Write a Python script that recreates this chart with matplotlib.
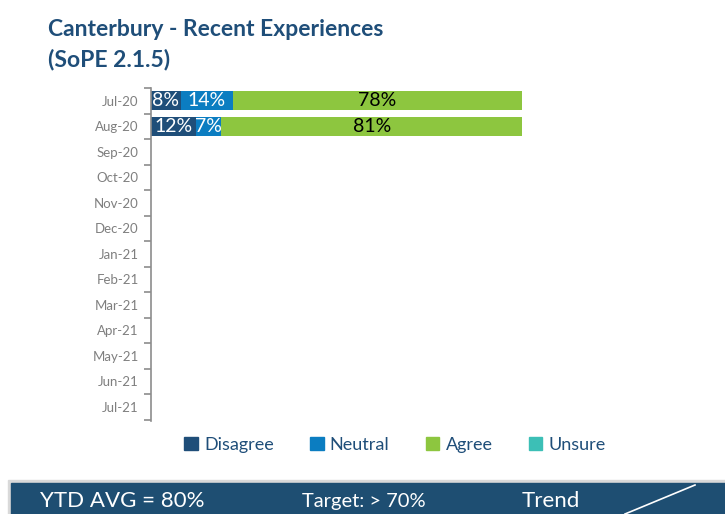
import matplotlib; matplotlib.use("Agg")
import matplotlib.pyplot as plt
from matplotlib.patches import Rectangle
from matplotlib.lines import Line2D
import numpy as np

plt.rcParams["font.family"] = ["Lato", "DejaVu Sans"]

months = ["Jul-20", "Aug-20", "Sep-20", "Oct-20", "Nov-20", "Dec-20", "Jan-21",
          "Feb-21", "Mar-21", "Apr-21", "May-21", "Jun-21", "Jul-21"]
disagree = [8, 12]
neutral = [14, 7]
agree = [78, 81]
unsure = [0, 0]
series = ["Disagree", "Neutral", "Agree", "Unsure"]
colors = ["#1f4e79", "#0b7dc1", "#8dc63f", "#3cbfb6"]
txtcol = ["white", "white", "black", "black"]

fig = plt.figure(figsize=(7.25, 5.14), dpi=100)
ax = fig.add_axes([151/725, 1-421/514, 371/725, 333/514])
y = np.arange(len(months))
left = np.zeros(len(disagree))
for vals, name, c, tc in zip([disagree, neutral, agree, unsure], series, colors, txtcol):
    v = np.array(vals, float)
    ax.barh(y[:len(v)], v, left=left, height=0.74, color=c, label=name)
    for yi, l, w in zip(y, left, v):
        if w > 0: ax.text(l + w/2, yi, "%d%%" % w, ha="center", va="center", fontsize=14, color=tc)
    left += v
ax.set_xlim(0, 100); ax.set_ylim(len(months) - 0.45, -0.45)
ax.set_yticks(y); ax.set_yticklabels(months, fontsize=9.5, color="#7f7f7f")
ax.tick_params(axis="y", which="major", length=0, pad=9)
ax.set_yticks(np.arange(len(months) + 1) - 0.5, minor=True)
ax.tick_params(axis="y", which="minor", length=5, color="#8c8c8c", width=1.2)
ax.set_xticks([])
for s in ["top", "right", "bottom"]: ax.spines[s].set_visible(False)
ax.spines["left"].set_color("#8c8c8c"); ax.spines["left"].set_linewidth(1.2)

fig.text(48/725, 1-30/514, "Canterbury - Recent Experiences", fontsize=16.5, fontweight="bold", color="#1f4e79", va="center")
fig.text(48/725, 1-60/514, "(SoPE 2.1.5)", fontsize=16.5, fontweight="bold", color="#1f4e79", va="center")

handles = [Rectangle((0, 0), 1, 1, color=c) for c in colors]
fig.legend(handles, series, loc="center", bbox_to_anchor=(395/725, 1-445/514), ncol=4, frameon=False,
           fontsize=13, labelcolor="#1f4e79", handlelength=0.75, handleheight=0.75, columnspacing=2.0, handletextpad=0.35)

# bottom banner
fig.add_artist(Rectangle((8/725, 0), 1, 34/514, transform=fig.transFigure, color="#d9d9d9", zorder=0))
fig.add_artist(Rectangle((11/725, 0), 1, 31/514, transform=fig.transFigure, color="#1e4e72", zorder=1))
fig.text(40/725, 1-501/514, "YTD AVG = 80%", fontsize=16, color="white", va="center", zorder=2)
fig.text(302/725, 1-501/514, "Target: > 70%", fontsize=14.5, color="white", va="center", zorder=2)
fig.text(522/725, 1-501/514, "Trend", fontsize=16, color="white", va="center", zorder=2)
fig.add_artist(Line2D([625/725, 695/725], [0, 1-485/514], transform=fig.transFigure, color="white", lw=1.2, zorder=2))

fig.savefig("out.png", dpi=100)
